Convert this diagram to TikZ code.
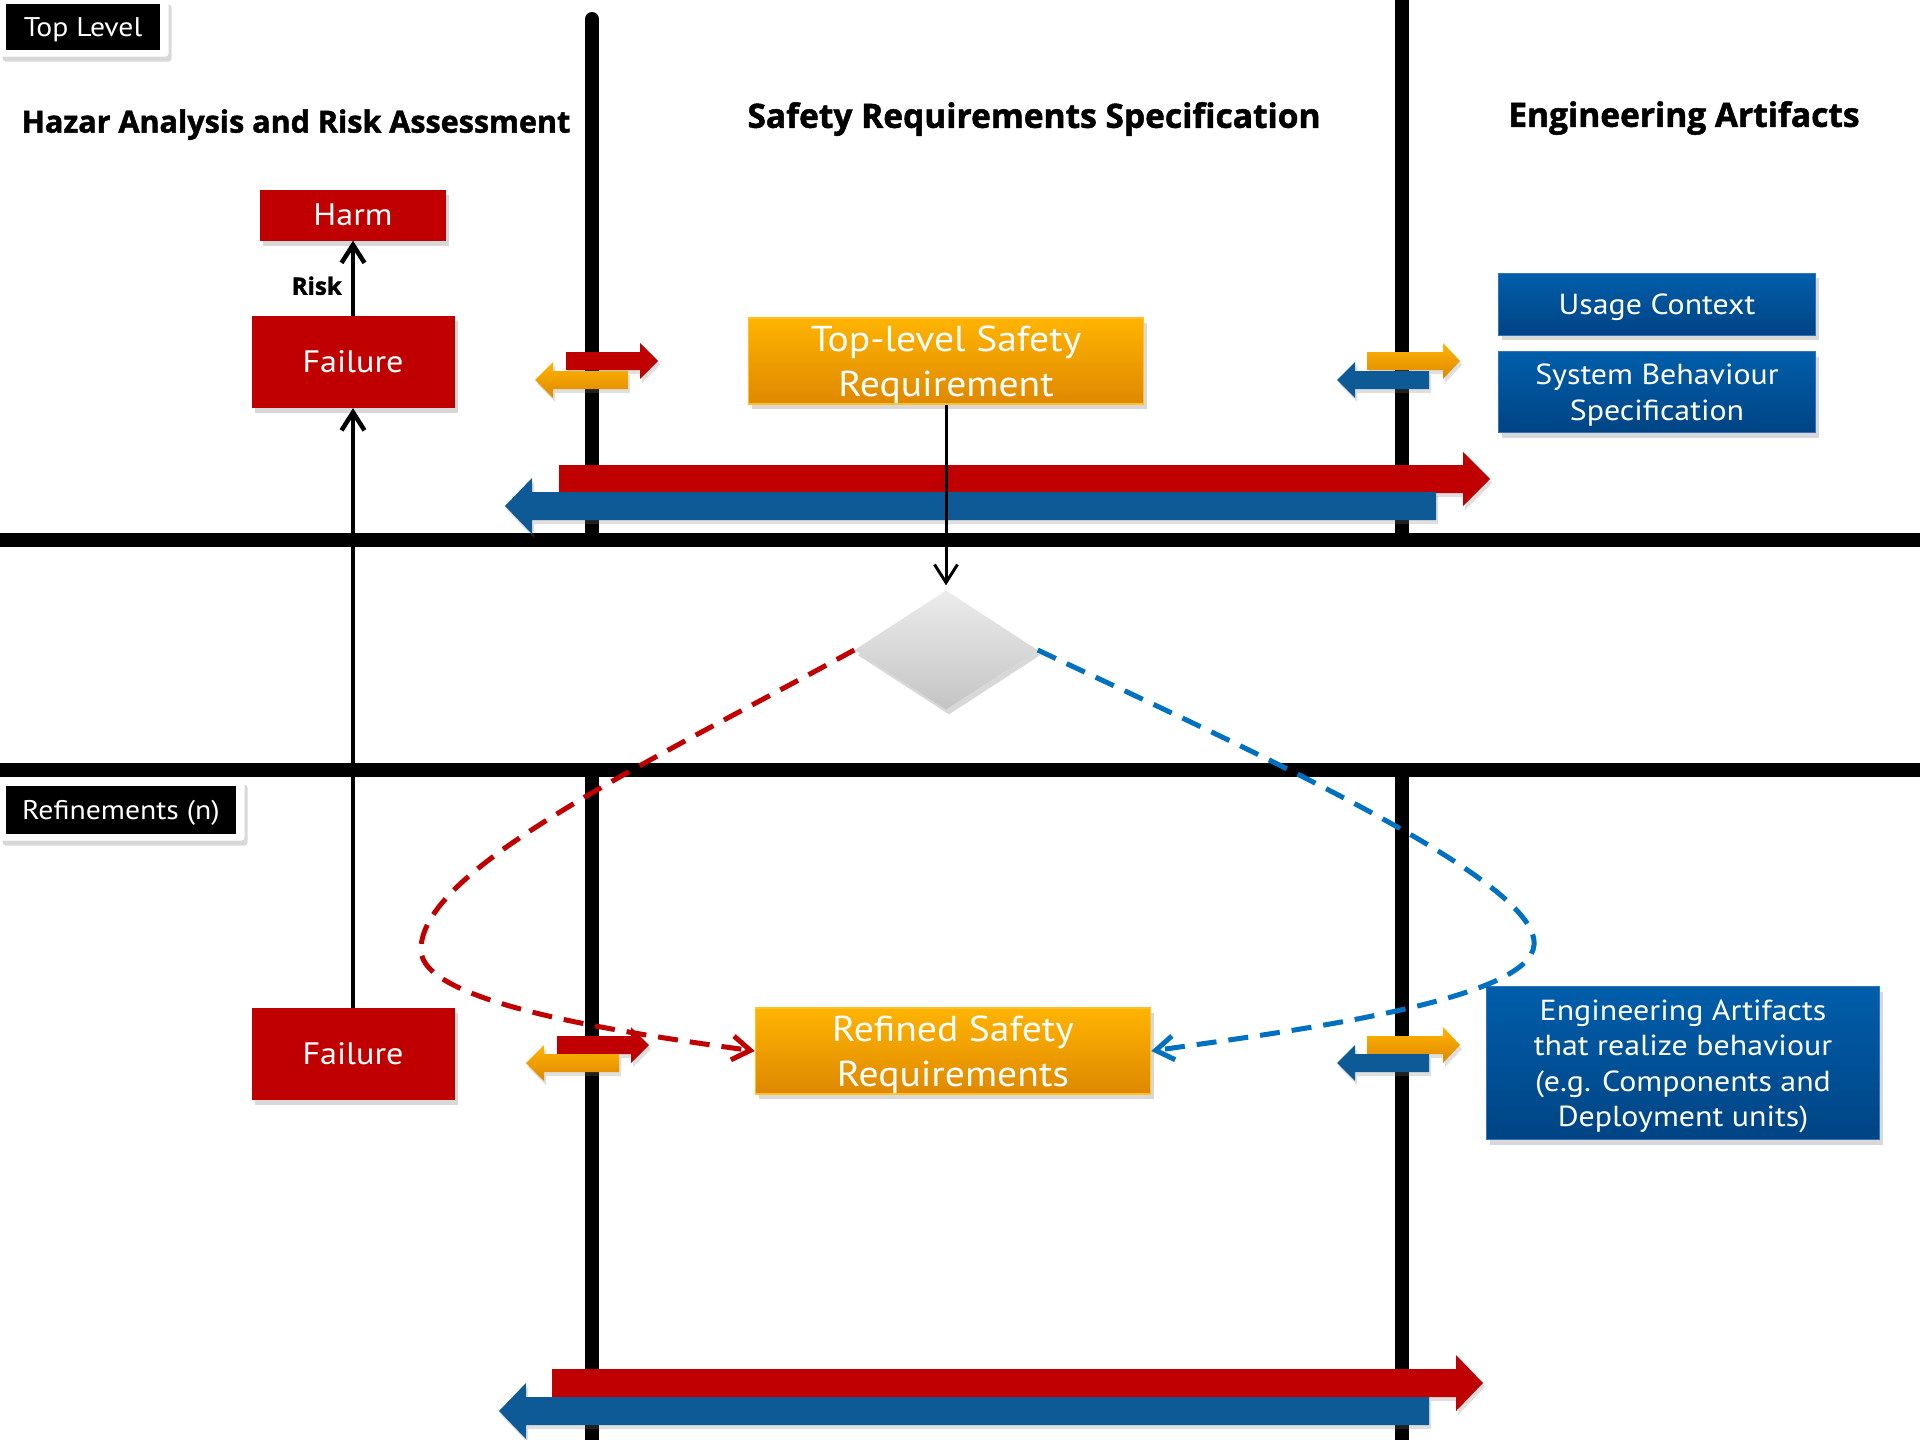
\documentclass[tikz,border=0pt]{standalone}
\usepackage{fontspec}
\setmainfont{PT Sans}[FakeStretch=1.1]
\newfontfamily\headfont{Open Sans}[BoldFeatures={FakeBold=1.5}]
\usetikzlibrary{shapes.geometric,shadows,arrows.meta}
\definecolor{harmred}{RGB}{192,0,0}
\definecolor{reqtop}{RGB}{255,180,0}
\definecolor{reqbot}{RGB}{222,136,0}
\definecolor{reqline}{RGB}{255,192,40}
\definecolor{arttop}{RGB}{0,94,170}
\definecolor{artbot}{RGB}{0,68,132}
\definecolor{artline}{RGB}{50,115,185}
\definecolor{flowblue}{RGB}{14,90,150}
\definecolor{dashblue}{RGB}{0,112,192}
\definecolor{diatop}{RGB}{236,236,236}
\definecolor{diabot}{RGB}{196,196,196}
\tikzstyle{boxshadow}=[drop shadow={shadow xshift=3pt,shadow yshift=-5pt,opacity=0.3}]
\tikzstyle{harmbox}=[fill=harmred,text=white,boxshadow,font=\fontsize{31}{37}\selectfont]
\tikzstyle{reqbox}=[top color=reqtop,bottom color=reqbot,draw=reqline,line width=1.5,text=white,boxshadow,align=center,text depth=0pt,minimum width=395,minimum height=86,font=\fontsize{36}{45}\selectfont]
\tikzstyle{artbox}=[top color=arttop,bottom color=artbot,draw=artline,line width=1,text=white,boxshadow,align=center,text depth=0pt,font=\fontsize{29}{35.5}\selectfont]
\tikzstyle{levelbox}=[fill=black,text=white,text depth=0pt,font=\fontsize{27}{32}\selectfont]
\tikzstyle{levelframe}=[fill=white,rounded corners=3,boxshadow]
\tikzstyle{lane}=[line width=14]
\tikzstyle{heading}=[text depth=0pt,font=\headfont\bfseries\fontsize{33.5}{38}\selectfont]
\tikzstyle{hazdash}=[harmred,line width=5,dash pattern=on 20pt off 12pt,-{Straight Barb[length=18pt,width=24pt]}]
\tikzstyle{artdash}=[dashblue,line width=5,dash pattern=on 20pt off 12pt,-{Straight Barb[length=18pt,width=24pt]}]
\tikzstyle{flow}=[line width=4.5,-{Straight Barb[length=18pt,width=23pt]}]
% block arrow: style, tail x, head base x, tip x, centre y, half body, half head
\newcommand{\blockarrow}[7]{%
  \path[#1,drop shadow={shadow xshift=2pt,shadow yshift=-4pt,opacity=0.25}]
    (#2,#5-#6) -- (#3,#5-#6) -- (#3,#5-#7) -- (#4,#5) -- (#3,#5+#7)
    -- (#3,#5+#6) -- (#2,#5+#6) -- cycle;}

\begin{document}
\begin{tikzpicture}[x=1pt,y=-1pt,inner sep=0pt]
  \useasboundingbox[fill=white] (0,0) rectangle (1920,1440);
  % swim lanes
  \draw[lane] (0,540) -- (1920,540);
  \draw[lane] (0,770) -- (1920,770);
  \draw[lane,line cap=round] (592,19) -- (592,540);
  \draw[lane] (1402,0) -- (1402,540);
  \draw[lane] (592,770) -- (592,1440);
  \draw[lane] (1402,770) -- (1402,1440);

  % level tags
  \node[levelframe,minimum width=169,minimum height=57] at (84,28) {};
  \node[levelbox,minimum width=154,minimum height=46] (toplvl) at (83,27) {Top Level};
  \node[levelframe,minimum width=245,minimum height=61] at (122,810) {};
  \node[levelbox,minimum width=230,minimum height=48] (reflvl) at (121,810) {Refinements (n)};

  % column headings
  \node[heading,font=\headfont\bfseries\fontsize{30.5}{35}\selectfont] (hara) at (296,121) {Hazar Analysis and Risk Assessment};
  \node[heading] (srs) at (1034,115) {Safety Requirements Specification};
  \node[heading] (eng) at (1684,114) {Engineering Artifacts};

  % exchange arrows
  \blockarrow{fill=harmred}{559}{1463}{1490}{479}{14}{27}
  \blockarrow{fill=flowblue}{1436}{532}{505}{506}{14}{28}
  \blockarrow{fill=harmred}{552}{1456}{1483}{1383}{14}{28}
  \blockarrow{fill=flowblue}{1429}{526}{499}{1411}{14}{28}
  \foreach \yr/\yb/\dx in {361/380/0,1045/1063/-9}{
    \blockarrow{fill=harmred}{566+\dx}{640+\dx}{658+\dx}{\yr}{9}{18}
    \blockarrow{top color=reqtop,bottom color=reqbot}{628+\dx}{553+\dx}{535+\dx}{\yb}{9}{18}
    \blockarrow{top color=reqtop,bottom color=reqbot}{1367}{1443}{1460}{\yr}{9}{18}
    \blockarrow{fill=flowblue}{1429}{1355}{1337}{\yb}{9}{18}
  }

  % hazard analysis
  \foreach \place/\name/\bw/\bh/\txt in {{(353,215)/harm/186/51/Harm},
                                        {(353,362)/failtop/203/92/Failure},
                                        {(353,1054)/failref/203/92/Failure}}
    \node[harmbox,minimum width=\bw,minimum height=\bh] (\name) at \place {\txt};

  % requirements
  \node[reqbox] (topreq) at (946,361) {Top-level Safety\\Requirement};
  \node[reqbox] (refreq) at (953,1051) {Refined Safety\\Requirements};
  \node[diamond,top color=diatop,bottom color=diabot,minimum width=183,minimum height=119,boxshadow] (dia) at (946,650) {};

  % artifacts
  \node[artbox,minimum width=317,minimum height=62] (usage) at (1657,304) {Usage Context};
  \node[artbox,minimum width=317,minimum height=81] (sysbeh) at (1657,392) {System Behaviour\\Specification};
  \node[artbox,minimum width=393,minimum height=153] (realize) at (1683,1063) {Engineering Artifacts\\that realize behaviour\\(e.g. Components and\\Deployment units)};

  % connectors
  \draw[flow] (failtop.north) -- node[pos=0.4,left=9pt,font=\headfont\bfseries\fontsize{24}{28}\selectfont] {Risk} (harm.south);
  \draw[flow] (failref.north) -- (failtop.south);
  \draw[flow,line width=3,shorten >=5pt] (topreq.south) -- (dia.north);
  \coordinate (hazturn) at (421,950);
  \coordinate (artturn) at (1534,945);
  \draw[hazdash] (dia.west) .. controls (640,767) and (420,870) .. (hazturn)
    .. controls (421,1000) and (600,1030) .. (refreq.west);
  \draw[artdash] (dia.east) .. controls (1250,750) and (1540,880) .. (artturn)
    .. controls (1530,1000) and (1300,1030) .. (refreq.east);
\end{tikzpicture}
\end{document}
